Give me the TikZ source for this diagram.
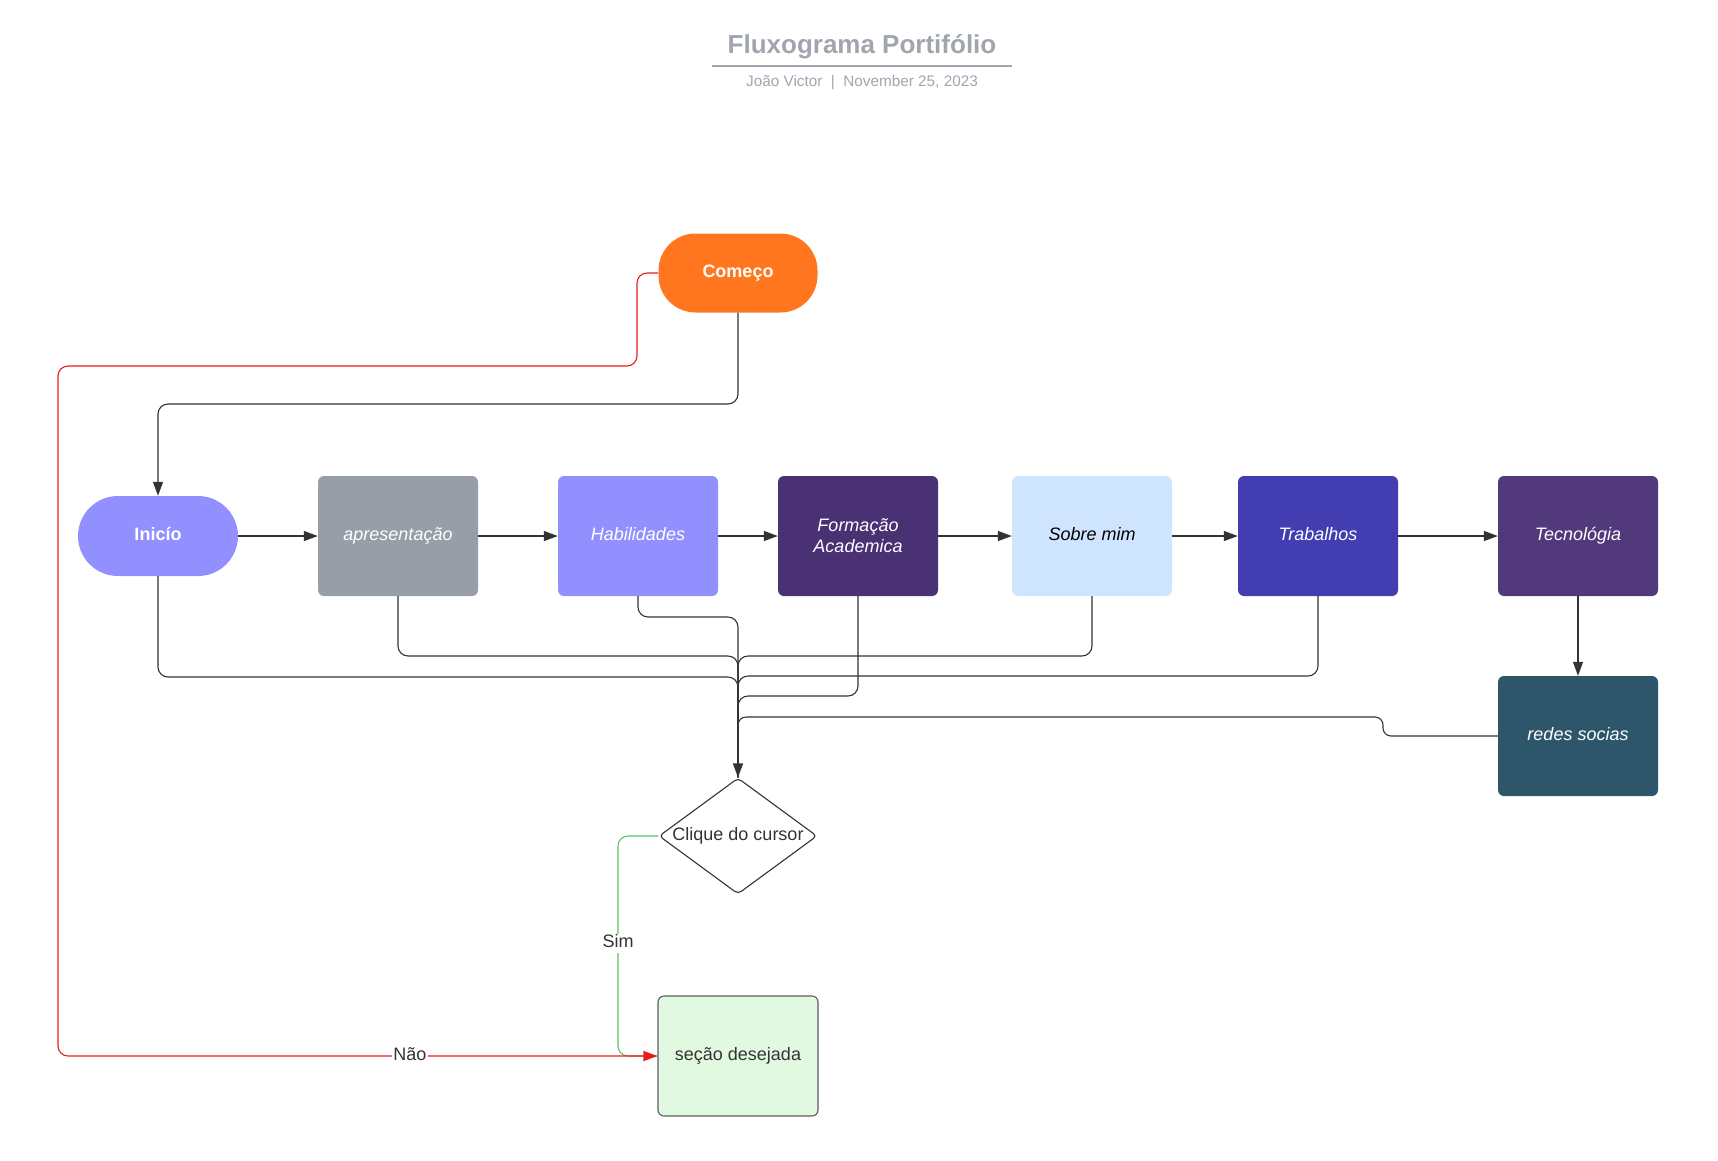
\documentclass[tikz,border=0pt]{standalone}
\usepackage{fontspec}
\setmainfont{Liberation Sans}
\usetikzlibrary{shapes.geometric,arrows.meta}
\definecolor{cOrange}{HTML}{FF761E}
\definecolor{cPeri}{HTML}{9290FE}
\definecolor{cGray}{HTML}{979EA8}
\definecolor{cPurpleD}{HTML}{4A3173}
\definecolor{cLightBlue}{HTML}{CFE4FF}
\definecolor{cIndigo}{HTML}{423EB1}
\definecolor{cPurple}{HTML}{52397B}
\definecolor{cTeal}{HTML}{2E566B}
\definecolor{cGreenF}{HTML}{E1F9E1}
\definecolor{cTitle}{HTML}{A0A5AE}
\definecolor{cLine}{HTML}{333333}
\definecolor{cRed}{HTML}{E81B1B}
\definecolor{cGreen}{HTML}{5CC25C}
\begin{document}
\begin{tikzpicture}[x=1pt,y=-1pt,
  txt/.style={font=\fontsize{18}{21}\selectfont},
  oneline/.style={text height=13pt,text depth=4pt},
  box/.style={rounded corners=6pt,minimum width=160pt,minimum height=120pt,inner sep=0pt,text=white,font=\fontsize{18}{21}\selectfont\itshape,align=center},
  conn/.style={draw=cLine,line width=1.1pt,rounded corners=10pt},
  tip/.style={-{Triangle[length=14pt,width=10pt]}},
  lbl/.style={txt,fill=white,inner sep=1pt,text=cLine}]
\useasboundingbox (0,0) rectangle (1718,1160);
% title
\node[text=cTitle,font=\fontsize{26}{30}\selectfont\bfseries] (title) at (862,47) {Fluxograma Portifólio};
\draw[cTitle,line width=1.5pt] (712,66) -- (1012,66);
\node[text=cTitle,font=\fontsize{15.3}{18}\selectfont] (sub) at (862,83) {João Victor\ \ |\ \ November 25, 2023};
% nodes
\node[fill=cOrange,rounded corners=37pt,minimum width=159pt,minimum height=79pt,inner sep=0pt,text=white,font=\fontsize{18}{21}\selectfont\bfseries,oneline] (com) at (738,273) {Começo};
\node[fill=cPeri,rounded corners=40pt,minimum width=160pt,minimum height=80pt,inner sep=0pt,text=white,font=\fontsize{18}{21}\selectfont\bfseries,oneline] (ini) at (158,536) {Inicío};
\node[box,oneline,fill=cGray] (apr) at (398,536) {apresentação};
\node[box,oneline,fill=cPeri] (hab) at (638,536) {Habilidades};
\node[box,fill=cPurpleD] (for) at (858,536) {Formação\\Academica};
\node[box,oneline,fill=cLightBlue,text=black] (sob) at (1092,536) {Sobre mim};
\node[box,oneline,fill=cIndigo] (tra) at (1318,536) {Trabalhos};
\node[box,oneline,fill=cPurple] (tec) at (1578,536) {Tecnológia};
\node[box,oneline,fill=cTeal] (red) at (1578,736) {redes socias};
\node[diamond,draw=cLine,line width=1.1pt,rounded corners=4pt,minimum width=158pt,minimum height=116pt,inner sep=0pt] (dia) at (738,836) {};
\node[txt,oneline,text=cLine] (diat) at (738,836) {Clique do cursor};
\node[txt,oneline,draw=cLine!80,line width=1.1pt,fill=cGreenF,rounded corners=6pt,minimum width=160pt,minimum height=120pt,inner sep=0pt,text=cLine] (sec) at (738,1056) {seção desejada};
% top connectors
\draw[conn,tip] (com.south) -- (738,404) -- (158,404) -- (ini.north);
% row
\draw[conn,tip] (ini.east) -- (apr.west);
\draw[conn,tip] (apr.east) -- (hab.west);
\draw[conn,tip] (hab.east) -- (for.west);
\draw[conn,tip] (for.east) -- (sob.west);
\draw[conn,tip] (sob.east) -- (tra.west);
\draw[conn,tip] (tra.east) -- (tec.west);
\draw[conn,tip] (tec.south) -- (red.north);
% merges into decision
\draw[conn] (ini.south) -- (158,677) -- (738,677) -- (dia.north);
\draw[conn] (apr.south) -- (398,656) -- (738,656) -- (dia.north);
\draw[conn] (hab.south) -- (638,617) -- (738,617) -- (dia.north);
\draw[conn] (for.south) -- (858,696) -- (738,696) -- (dia.north);
\draw[conn] (sob.south) -- (1092,656) -- (738,656) -- (dia.north);
\draw[conn] (tra.south) -- (1318,676) -- (738,676) -- (dia.north);
\draw[conn,rounded corners=8pt,tip] (red.west) -- (1383,736) -- (1383,717) -- (738,717) -- (dia.north);
% yes branch
\draw[draw=cGreen,line width=1.1pt,rounded corners=10pt] (dia.west) -- (618,836) -- (618,1056) -- (sec.west);
\node[lbl,oneline] (sim) at (618,943) {Sim};
% no branch
\draw[draw=cRed,line width=1.1pt,rounded corners=10pt,-{Triangle[length=14pt,width=10pt,fill=cRed]}] (com.west) -- (637,273) -- (637,366) -- (58,366) -- (58,1056) -- (sec.west);
\node[lbl,oneline] (nao) at (410,1056) {Não};
\end{tikzpicture}
\end{document}
